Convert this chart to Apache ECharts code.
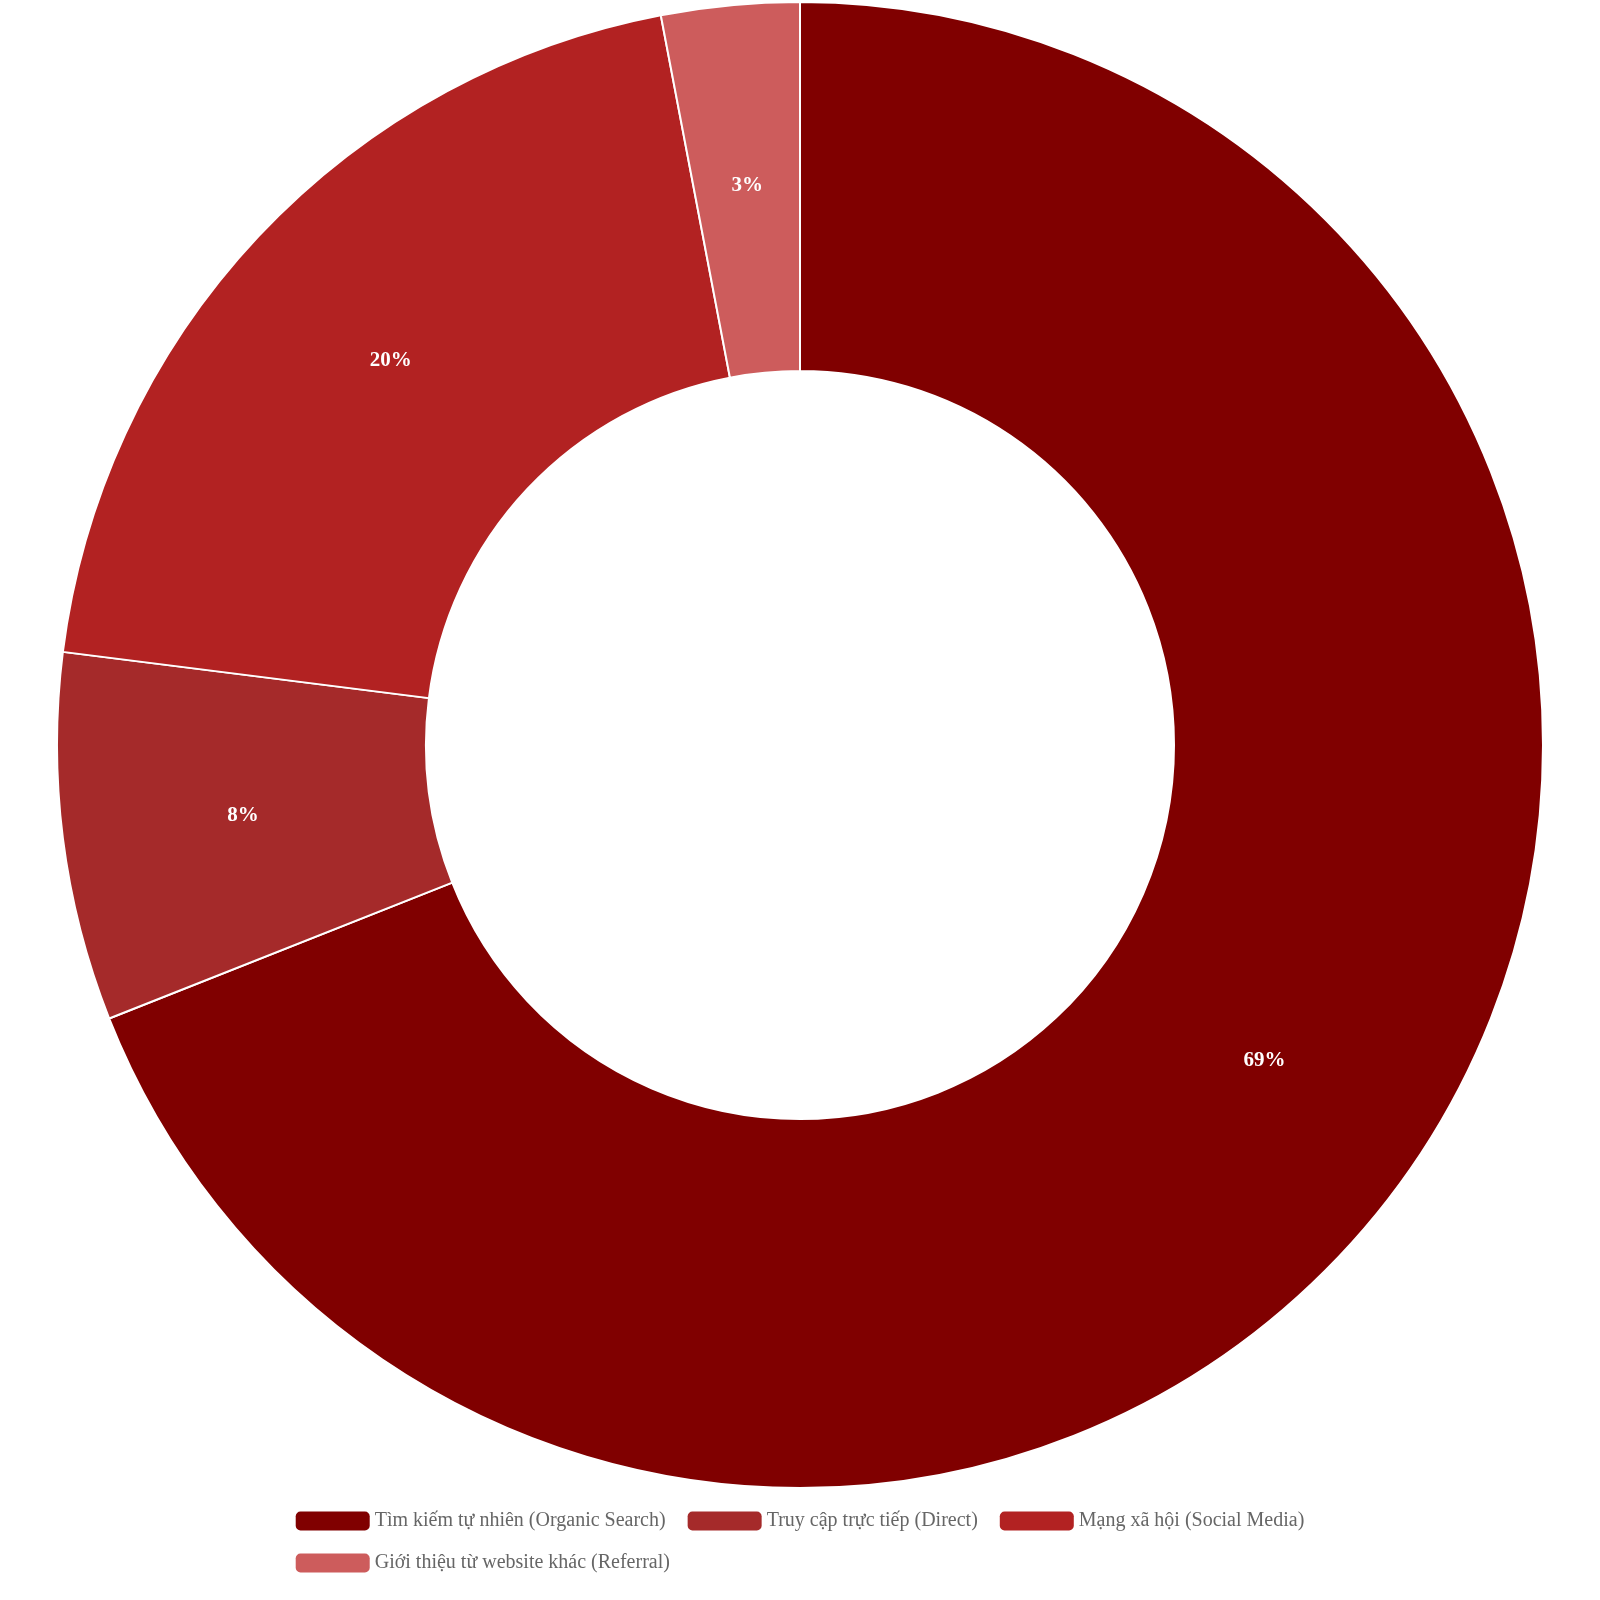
<!DOCTYPE html>
<html>
<head>
<meta charset="utf-8">
<script src="https://cdn.jsdelivr.net/npm/echarts@6/dist/echarts.min.js"></script>
<style>html,body{margin:0;padding:0;background:#fff}#chart{width:1600px;height:1600px}</style>
</head>
<body>
<div id="chart"></div>
<script>
// traffic sources, share in percent
const categories = ['Tìm kiếm tự nhiên (Organic Search)', 'Truy cập trực tiếp (Direct)', 'Mạng xã hội (Social Media)', 'Giới thiệu từ website khác (Referral)']
const values = [69, 8, 20, 3]
const colors = ['#800000', '#A52A2A', '#B22222', '#CD5C5C']

const chart = echarts.init(document.getElementById('chart'))
chart.setOption({
    textStyle: {fontFamily: 'Liberation Serif'},
    color: colors,
    legend: {
        bottom: 22,
        left: 'center',
        width: 1220,
        itemWidth: 74,
        itemHeight: 19,
        itemGap: 22,
        itemStyle: {borderWidth: 0},
        textStyle: {fontSize: 20, color: '#666', fontFamily: 'Liberation Serif'},
        data: categories
    },
    series: [{
        type: 'pie',
        center: [800, 745],
        radius: [374, 743],
        startAngle: 90,
        clockwise: true,
        avoidLabelOverlap: false,
        itemStyle: {borderColor: '#fff', borderWidth: 2},
        label: {
            position: 'inside',
            formatter: '{d}%',
            color: '#fff',
            fontWeight: 'bold',
            fontSize: 21,
            fontFamily: 'Liberation Serif'
        },
        labelLine: {show: false},
        data: categories.map((c, i) => ({name: c, value: values[i]}))
    }]
})
</script>
</body>
</html>
